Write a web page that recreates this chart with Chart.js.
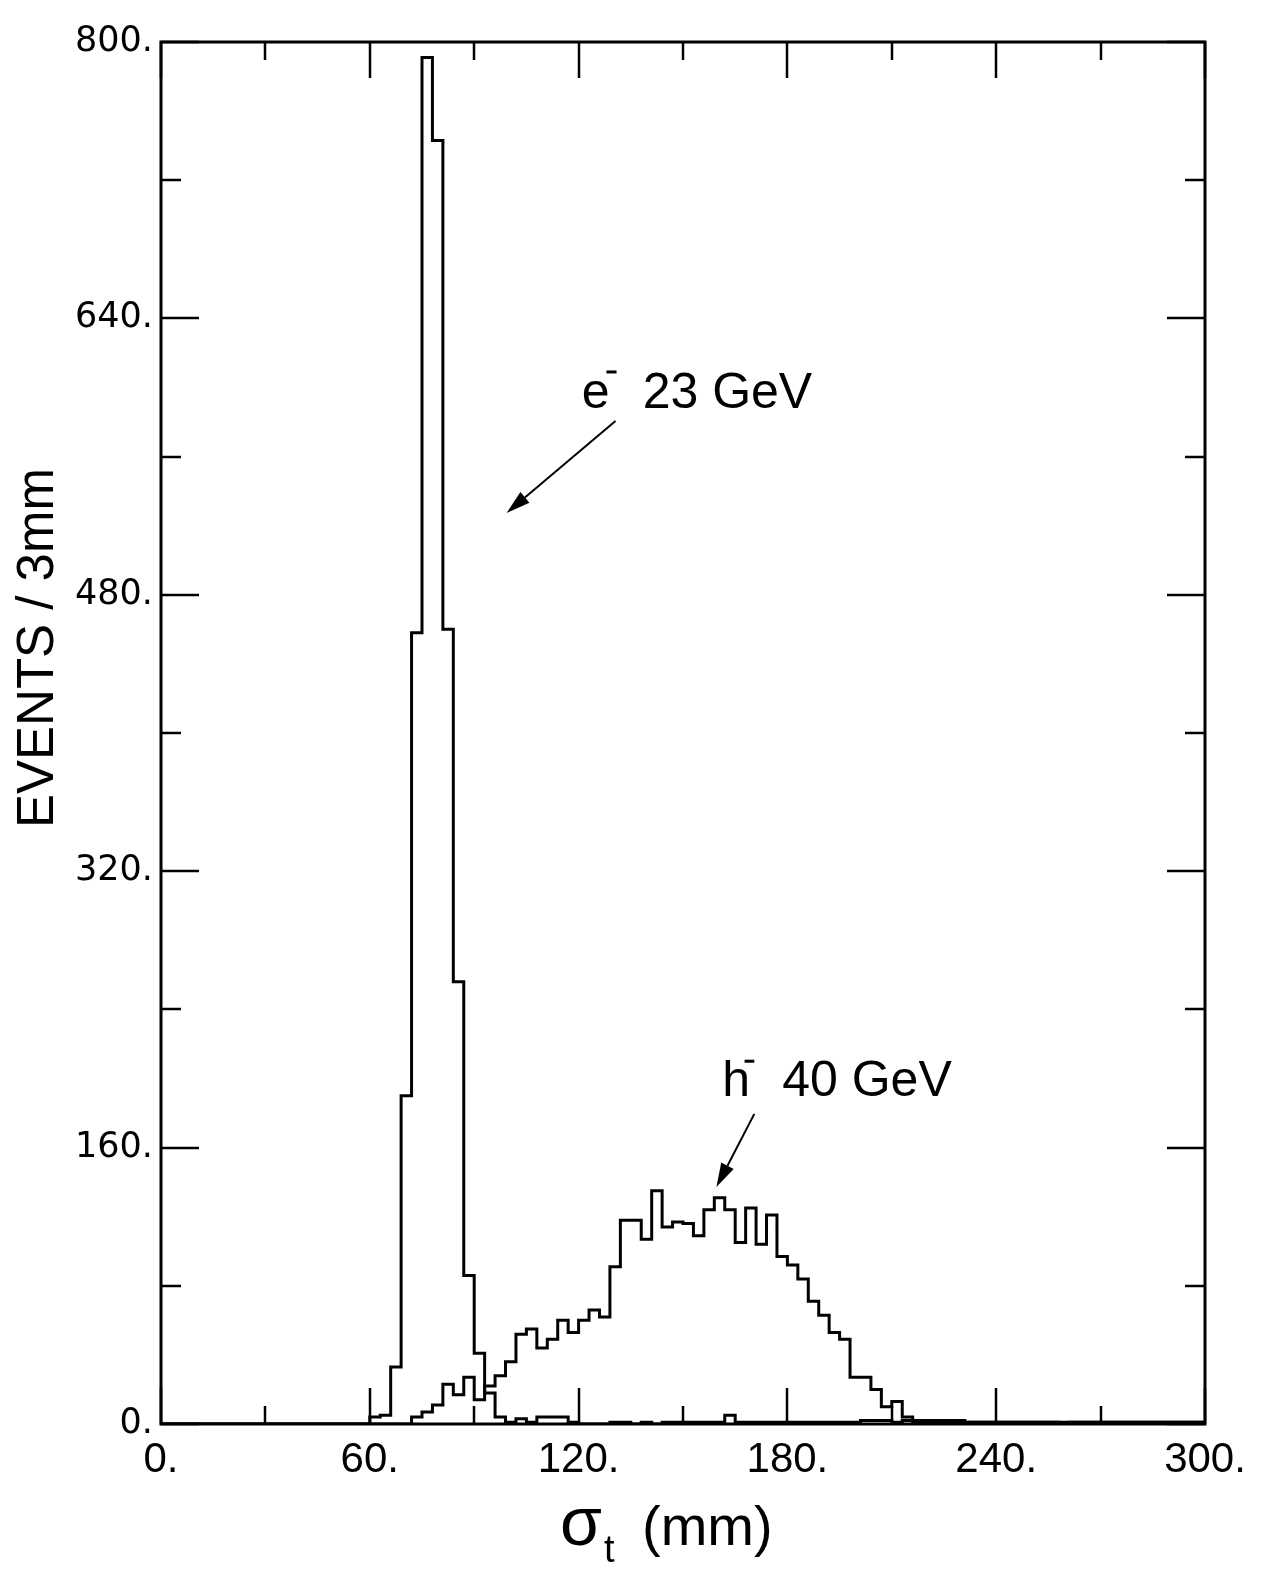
<!DOCTYPE html>
<html>
<head>
<meta charset="utf-8">
<script src="https://cdn.jsdelivr.net/npm/chart.js@4.4.1/dist/chart.umd.min.js"></script>
<style>
  html, body { margin: 0; padding: 0; background: #fff; }
  #wrap { width: 1265px; height: 1570px; }
</style>
</head>
<body>
<div id="wrap"><canvas id="canvas" width="1265" height="1570"></canvas></div>
<script>
// bin i covers [3i, 3i+3) mm
const binWidth = 3;
const xTicks = [0, 60, 120, 180, 240, 300];
const xTickLabels = ['0.', '60.', '120.', '180.', '240.', '300.'];
const yTicks = [0, 160, 320, 480, 640, 800];
const yTickLabels = ['0.', '160.', '320.', '480.', '640.', '800.'];
const xMinorStep = 30;
const yMinorStep = 80;

// e- 23 GeV
const electronCounts = [
  0, 0, 0, 0, 0, 0, 0, 0, 0, 0,
  0, 0, 0, 0, 0, 0, 0, 0, 0, 0,
  4, 5, 33, 190, 458, 791, 743, 460, 256, 86,
  41, 18, 4, 1, 3, 1, 4, 4, 4, 1,
  0, 0, 0, 1, 1, 0, 1, 0, 1, 1,
  1, 1, 1, 1, 5, 1, 1, 1, 1, 1,
  1, 1, 1, 1, 1, 1, 1, 2, 2, 2,
  1, 2, 1, 1, 1, 1, 1, 1, 1, 1,
  1, 1, 1, 1, 1, 1, 0, 1, 1, 1,
  1, 1, 1, 1, 1, 1, 1, 1, 1, 1
];

// h- 40 GeV
const hadronCounts = [
  0, 0, 0, 0, 0, 0, 0, 0, 0, 0,
  0, 0, 0, 0, 0, 0, 0, 0, 0, 0,
  0, 0, 0, 0, 4, 7, 11, 23, 17, 27,
  14, 22, 28, 36, 52, 55, 44, 49, 60, 53,
  60, 66, 62, 91, 118, 118, 107, 135, 114, 117,
  116, 109, 124, 131, 124, 105, 125, 104, 121, 97,
  92, 84, 71, 63, 53, 49, 27, 27, 20, 10,
  13, 4, 2, 2, 2, 2, 2, 1, 1, 1,
  1, 1, 1, 1, 1, 1, 1, 1, 1, 1,
  1, 1, 1, 1, 1, 1, 1, 1, 1, 1
];

const toSteps = (counts) => {
  const pts = counts.map((c, i) => ({ x: i * binWidth, y: c }));
  pts.push({ x: counts.length * binWidth, y: counts[counts.length - 1] });
  return pts;
};

// annotation anchors, in data units
const eLabel = { name: 'e', text: '23 GeV', x: 120.9, nameY: 588, textX: 138.4, barX: [128.0, 130.9], barY: 609 };
const hLabel = { name: 'h', text: '40 GeV', x: 161.3, nameY: 190, textX: 178.5, barX: [167.7, 170.5], barY: 210 };
const eArrow = { from: [130.6, 580.6], to: [99.3, 527.4] };
const hArrow = { from: [170.5, 179.5], to: [159.6, 137.2] };

const drawArrow = (ctx, x, y, arrow) => {
  const x0 = x.getPixelForValue(arrow.from[0]), y0 = y.getPixelForValue(arrow.from[1]);
  const x1 = x.getPixelForValue(arrow.to[0]), y1 = y.getPixelForValue(arrow.to[1]);
  const ang = Math.atan2(y1 - y0, x1 - x0);
  const len = 24, half = 7;
  const bx = x1 - len * Math.cos(ang), by = y1 - len * Math.sin(ang);
  ctx.lineWidth = 2;
  ctx.beginPath();
  ctx.moveTo(x0, y0);
  ctx.lineTo(bx, by);
  ctx.stroke();
  ctx.beginPath();
  ctx.moveTo(x1, y1);
  ctx.lineTo(bx + half * Math.sin(ang), by - half * Math.cos(ang));
  ctx.lineTo(bx - half * Math.sin(ang), by + half * Math.cos(ang));
  ctx.closePath();
  ctx.fill();
};

const drawLabel = (ctx, x, y, lab) => {
  ctx.font = '50px "Liberation Sans", Arial, sans-serif';
  ctx.textAlign = 'left';
  ctx.textBaseline = 'alphabetic';
  ctx.fillText(lab.name, x.getPixelForValue(lab.x), y.getPixelForValue(lab.nameY));
  ctx.fillText(lab.text, x.getPixelForValue(lab.textX), y.getPixelForValue(lab.nameY));
  ctx.lineWidth = 3;
  ctx.beginPath();
  ctx.moveTo(x.getPixelForValue(lab.barX[0]), y.getPixelForValue(lab.barY));
  ctx.lineTo(x.getPixelForValue(lab.barX[1]), y.getPixelForValue(lab.barY));
  ctx.stroke();
};

const framePlugin = {
  id: 'frame',
  afterDatasetsDraw(chart) {
    const { ctx, chartArea: a, scales: { x, y } } = chart;
    ctx.save();
    ctx.strokeStyle = '#000';
    ctx.fillStyle = '#000';
    ctx.lineWidth = 3;
    ctx.strokeRect(a.left, a.top, a.right - a.left, a.bottom - a.top);

    ctx.lineWidth = 2.5;
    ctx.beginPath();
    for (let v = x.min; v <= x.max; v += xMinorStep) {
      const px = Math.round(x.getPixelForValue(v));
      const len = v % 60 === 0 ? 36 : 18;
      ctx.moveTo(px, a.bottom); ctx.lineTo(px, a.bottom - len);
      ctx.moveTo(px, a.top); ctx.lineTo(px, a.top + len);
    }
    for (let v = y.min; v <= y.max; v += yMinorStep) {
      const py = Math.round(y.getPixelForValue(v));
      const len = v % 160 === 0 ? 38 : 20;
      ctx.moveTo(a.left, py); ctx.lineTo(a.left + len, py);
      ctx.moveTo(a.right, py); ctx.lineTo(a.right - len, py);
    }
    ctx.stroke();

    drawArrow(ctx, x, y, eArrow);
    drawArrow(ctx, x, y, hArrow);
    drawLabel(ctx, x, y, eLabel);
    drawLabel(ctx, x, y, hLabel);

    // axis titles
    ctx.save();
    ctx.translate(53, 648);
    ctx.rotate(-Math.PI / 2);
    ctx.font = '51px "Liberation Sans", Arial, sans-serif';
    ctx.textAlign = 'center';
    ctx.textBaseline = 'alphabetic';
    ctx.fillText('EVENTS / 3mm', 0, 0);
    ctx.restore();

    ctx.textAlign = 'left';
    ctx.textBaseline = 'alphabetic';
    ctx.font = '68px "Liberation Sans Narrow", "Liberation Sans", sans-serif';
    ctx.fillText('σ', 560, 1545);
    ctx.font = '38px "Liberation Sans Narrow", "Liberation Sans", sans-serif';
    ctx.fillText('t', 604, 1562);
    ctx.font = '56px "Liberation Sans Narrow", "Liberation Sans", sans-serif';
    ctx.fillText('(mm)', 642, 1545);
    ctx.restore();
  }
};

const ctx = document.getElementById('canvas').getContext('2d');
const chart = new Chart(ctx, {
  type: 'line',
  data: {
    datasets: [
      {
        label: 'e- 23 GeV',
        data: toSteps(electronCounts),
        stepped: 'before',
        borderColor: '#000',
        borderWidth: 3,
        pointRadius: 0,
        fill: false
      },
      {
        label: 'h- 40 GeV',
        data: toSteps(hadronCounts),
        stepped: 'before',
        borderColor: '#000',
        borderWidth: 3,
        pointRadius: 0,
        fill: false
      }
    ]
  },
  options: {
    responsive: false,
    animation: false,
    devicePixelRatio: 1,
    layout: { padding: { top: 42, right: 60, left: 0, bottom: 0 } },
    plugins: { legend: { display: false }, tooltip: { enabled: false } },
    scales: {
      x: {
        type: 'linear',
        min: 0,
        max: 300,
        afterFit: (s) => { s.height = 146; },
        afterBuildTicks: (s) => { s.ticks = xTicks.map(v => ({ value: v })); },
        grid: { display: false, drawTicks: false },
        border: { display: false },
        ticks: {
          color: '#000',
          padding: 11,
          maxRotation: 0,
          autoSkip: false,
          font: { family: '"Liberation Sans Narrow", "Liberation Sans", sans-serif', size: 42 },
          callback: (v, i) => xTickLabels[i]
        }
      },
      y: {
        min: 0,
        max: 800,
        afterFit: (s) => { s.width = 161; },
        afterBuildTicks: (s) => { s.ticks = yTicks.map(v => ({ value: v })); },
        grid: { display: false, drawTicks: false },
        border: { display: false },
        ticks: {
          color: '#000',
          padding: 8,
          autoSkip: false,
          font: { family: '"DejaVu Sans", sans-serif', size: 35 },
          callback: (v, i) => yTickLabels[i]
        }
      }
    }
  },
  plugins: [framePlugin]
});
</script>
</body>
</html>
